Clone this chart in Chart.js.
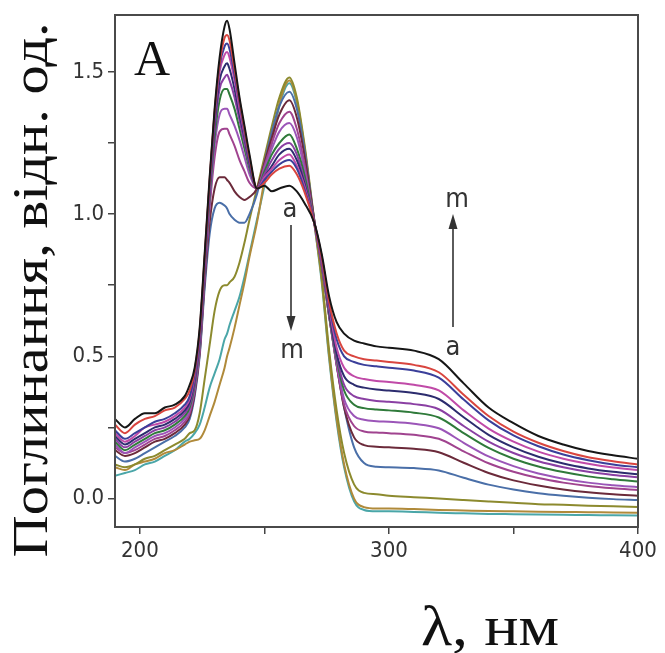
<!DOCTYPE html>
<html><head><meta charset="utf-8">
<script src="https://cdn.jsdelivr.net/npm/chart.js@4"></script>
<style>html,body{margin:0;padding:0;background:#fff}#wrap{width:665px;height:653px}</style>
</head><body><div id="wrap"><canvas id="c" width="665" height="653"></canvas></div>
<script>
// Wavelength grid (nm)
const wavelengths = [190,194,198,202,206,210,214,218,220,222,224,226,228,230,232,234,235,236,238,240,242,244,247,250,253,256,260,263,266,270,273,276,279,282,286,290,295,300,310,320,330,340,350,360,370,380,390,400];

// Absorbance spectra a..m (+ extra trace)
const curveA = [0.28,0.25,0.28,0.30,0.30,0.32,0.33,0.36, 0.40,0.46,0.60,0.86,1.13,1.37,1.55,1.66, 1.68,1.65,1.53,1.41,1.31,1.21,1.09, 1.10,1.08,1.09,1.10,1.08,1.04,0.97, 0.86,0.71,0.62,0.58,0.555,0.545,0.535,0.53, 0.52,0.49,0.405,0.32,0.265,0.22,0.19,0.167,0.152,0.14];
const curveB = [0.26,0.23,0.26,0.28,0.29,0.31,0.32,0.35, 0.38,0.45,0.59,0.85,1.12,1.36,1.53,1.62, 1.63,1.61,1.51,1.40,1.30,1.20,1.09, 1.11,1.14,1.16,1.17,1.14,1.08,0.97, 0.85,0.69,0.58,0.52,0.50,0.49,0.485,0.48, 0.47,0.444,0.365,0.29,0.235,0.196,0.167,0.145,0.131,0.12];
const curveC = [0.24,0.21,0.23,0.25,0.27,0.28,0.30,0.33, 0.36,0.44,0.58,0.84,1.11,1.35,1.52,1.59, 1.60,1.58,1.49,1.39,1.29,1.19,1.09, 1.12,1.15,1.175,1.19,1.16,1.09,0.97, 0.85,0.68,0.56,0.50,0.48,0.47,0.465,0.46, 0.45,0.425,0.348,0.275,0.222,0.184,0.155,0.135,0.12,0.11];
const curveD = [0.23,0.20,0.22,0.25,0.26,0.27,0.29,0.32, 0.35,0.43,0.57,0.83,1.10,1.34,1.50,1.56, 1.57,1.55,1.47,1.37,1.28,1.19,1.09, 1.13,1.16,1.19,1.21,1.17,1.10,0.97, 0.84,0.67,0.53,0.46,0.43,0.42,0.413,0.41, 0.40,0.38,0.31,0.246,0.20,0.165,0.14,0.122,0.109,0.10];
const curveE = [0.22,0.19,0.21,0.23,0.25,0.26,0.28,0.31, 0.34,0.42,0.56,0.82,1.09,1.32,1.47,1.52, 1.53,1.51,1.44,1.35,1.27,1.18,1.09, 1.13,1.17,1.21,1.23,1.19,1.11,0.97, 0.84,0.66,0.51,0.43,0.40,0.39,0.383,0.38, 0.371,0.35,0.286,0.224,0.18,0.147,0.123,0.106,0.094,0.085];
const curveF = [0.21,0.18,0.20,0.22,0.24,0.25,0.27,0.30, 0.33,0.41,0.55,0.81,1.08,1.30,1.44,1.48, 1.49,1.47,1.41,1.33,1.25,1.17,1.09, 1.14,1.19,1.23,1.25,1.21,1.12,0.97, 0.83,0.66,0.50,0.40,0.36,0.35,0.343,0.34, 0.332,0.314,0.255,0.20,0.16,0.131,0.11,0.094,0.083,0.075];
const curveG = [0.20,0.17,0.19,0.21,0.23,0.24,0.26,0.29, 0.32,0.40,0.54,0.80,1.06,1.27,1.40,1.44, 1.44,1.42,1.37,1.30,1.23,1.16,1.09, 1.15,1.21,1.25,1.28,1.23,1.14,0.97, 0.83,0.65,0.49,0.38,0.33,0.318,0.313,0.31, 0.302,0.285,0.23,0.178,0.14,0.113,0.093,0.078,0.068,0.06];
const curveH = [0.19,0.16,0.18,0.20,0.22,0.23,0.25,0.28, 0.31,0.39,0.53,0.79,1.04,1.24,1.35,1.37, 1.37,1.35,1.31,1.26,1.20,1.14,1.09, 1.16,1.23,1.29,1.32,1.27,1.16,0.97, 0.83,0.65,0.48,0.35,0.29,0.277,0.272,0.27, 0.263,0.247,0.196,0.148,0.114,0.088,0.07,0.056,0.047,0.04];
const curveI = [0.18,0.16,0.17,0.19,0.21,0.22,0.24,0.27, 0.30,0.38,0.52,0.78,1.02,1.20,1.29,1.30, 1.30,1.28,1.24,1.19,1.15,1.11,1.09, 1.17,1.25,1.32,1.36,1.30,1.18,0.97, 0.82,0.64,0.47,0.33,0.255,0.236,0.232,0.23, 0.224,0.21,0.166,0.124,0.094,0.072,0.056,0.044,0.036,0.03];
const curveJ = [0.17,0.15,0.16,0.18,0.20,0.21,0.23,0.26, 0.29,0.37,0.51,0.76,0.97,1.09,1.13,1.13, 1.12,1.11,1.08,1.06,1.05,1.06,1.09, 1.18,1.27,1.35,1.40,1.34,1.21,0.98, 0.82,0.64,0.47,0.32,0.215,0.188,0.182,0.18, 0.175,0.163,0.126,0.09,0.064,0.046,0.032,0.022,0.015,0.01];
const curveK = [0.15,0.13,0.14,0.16,0.18,0.20,0.22,0.25, 0.28,0.36,0.50,0.74,0.93,1.02,1.04,1.03, 1.02,1.00,0.98,0.97,0.97,1.00,1.07, 1.18,1.29,1.38,1.43,1.37,1.23,0.98, 0.82,0.64,0.47,0.32,0.18,0.125,0.112,0.11, 0.107,0.099,0.073,0.049,0.032,0.019,0.01,0.003,-0.002,-0.005];
const curveL = [0.12,0.11,0.12,0.14,0.15,0.17,0.19,0.21, 0.23,0.24,0.30,0.42,0.54,0.66,0.73,0.75, 0.75,0.76,0.78,0.83,0.90,0.98,1.09, 1.20,1.31,1.41,1.48,1.41,1.25,0.98, 0.78,0.52,0.31,0.16,0.05,0.02,0.015,0.01, 0.005,0.0,-0.005,-0.01,-0.015,-0.02,-0.022,-0.025,-0.027,-0.03];
const curveM = [0.11,0.10,0.12,0.13,0.14,0.16,0.17,0.19, 0.20,0.205,0.21,0.24,0.29,0.34,0.40,0.46, 0.50,0.53,0.60,0.68,0.76,0.85,0.97, 1.12,1.26,1.39,1.47,1.40,1.24,0.97, 0.77,0.50,0.28,0.12,0.0,-0.03,-0.035,-0.035, -0.037,-0.04,-0.042,-0.044,-0.045,-0.046,-0.047,-0.048,-0.049,-0.05];
const curveN = [0.08,0.09,0.10,0.12,0.13,0.15,0.17,0.20, 0.21,0.23,0.26,0.32,0.39,0.44,0.49,0.56, 0.58,0.61,0.66,0.71,0.78,0.86,0.98, 1.10,1.25,1.38,1.46,1.39,1.23,0.97, 0.76,0.49,0.27,0.11,-0.01,-0.04,-0.045,-0.045, -0.047,-0.05,-0.052,-0.054,-0.055,-0.056,-0.057,-0.058,-0.059,-0.06];

const seriesNames = ['a','b','c','d','e','f','g','h','i','j','k','l','m','n'];
const seriesValues = [curveA,curveB,curveC,curveD,curveE,curveF,curveG,curveH,curveI,curveJ,curveK,curveL,curveM,curveN];
const seriesColors = ['#161616','#d9453f','#3b3f9a','#c04aa8','#2c2c6e','#8a3fa3','#2f7a3a','#9b55b8','#a0438f','#6b2a3a','#4a6fa8','#8c8a2e','#b08a3a','#4aa6a8'];

// Axis ticks
const xTickValues = [200,250,300,350,400];
const xTickLabels = ['200','','300','','400'];
const yTickValues = [0,0.25,0.5,0.75,1.0,1.25,1.5];
const yTickLabels = ['0.0','','0.5','','1.0','','1.5'];

const xTitle = 'λ, нм';
const yTitle = 'Поглинання, відн. од.';
const panelLabel = 'A';

const tickFont = "'Liberation Sans Narrow','DejaVu Sans Condensed','Arial Narrow',sans-serif";
const serif = "'Liberation Serif','Times New Roman',serif";

const datasets = seriesValues.map((vals, si) => ({
  label: seriesNames[si],
  data: wavelengths.map((w, i) => ({x: w, y: vals[i]})),
  borderColor: seriesColors[si],
  borderWidth: 2,
  pointRadius: 0,
  fill: false,
  cubicInterpolationMode: 'monotone'
}));

function stretchedText(ctx, text, x, y, font, targetW, rot, align) {
  ctx.save();
  ctx.font = font;
  const w = ctx.measureText(text).width;
  ctx.translate(x, y);
  ctx.rotate(rot);
  ctx.scale(targetW / w, 1);
  ctx.textAlign = align || 'center';
  ctx.textBaseline = 'alphabetic';
  ctx.fillText(text, 0, 0);
  ctx.restore();
}
function arrow(ctx, x, y1, y2) {
  const dir = y2 > y1 ? 1 : -1;
  ctx.beginPath();
  ctx.moveTo(x, y1);
  ctx.lineTo(x, y2 - dir * 10);
  ctx.stroke();
  ctx.beginPath();
  ctx.moveTo(x, y2);
  ctx.lineTo(x - 4.5, y2 - dir * 15);
  ctx.lineTo(x + 4.5, y2 - dir * 15);
  ctx.closePath();
  ctx.fill();
}

const decor = {
  id: 'decor',
  afterDraw(chart) {
    const ctx = chart.ctx;
    const a = chart.chartArea;
    ctx.save();
    ctx.strokeStyle = '#4a4a4a';
    ctx.lineWidth = 2;
    ctx.strokeRect(a.left, a.top, a.right - a.left, a.bottom - a.top);
    ctx.fillStyle = '#111';
    stretchedText(ctx, yTitle, 47, 290, '50px ' + serif, 535, -Math.PI / 2);
    stretchedText(ctx, xTitle, 490, 645, '58px ' + serif, 138, 0);
    ctx.font = '50px ' + serif;
    ctx.textAlign = 'left';
    ctx.textBaseline = 'alphabetic';
    ctx.fillText(panelLabel, 134, 75);
    ctx.fillStyle = '#333';
    ctx.strokeStyle = '#333';
    ctx.lineWidth = 1.6;
    ctx.font = '27px ' + tickFont;
    ctx.textAlign = 'center';
    ctx.fillText('a', 290, 217);
    ctx.fillText('m', 292, 358);
    ctx.fillText('m', 457, 207);
    ctx.fillText('a', 453, 355);
    arrow(ctx, 291, 225, 331);
    arrow(ctx, 453, 327, 214);
    ctx.restore();
  }
};

new Chart(document.getElementById('c'), {
  type: 'line',
  data: {datasets},
  options: {
    responsive: false,
    animation: false,
    devicePixelRatio: 1,
    layout: {padding: {left: 0, right: 27, top: 15, bottom: 0}},
    plugins: {legend: {display: false}, tooltip: {enabled: false}},
    scales: {
      x: {
        type: 'linear', min: 190, max: 400,
        afterBuildTicks: s => { s.ticks = xTickValues.map(v => ({value: v})); },
        afterFit: s => { s.height = 126; s.paddingLeft = 0; s.paddingRight = 0; },
        ticks: {
          autoSkip: false, maxRotation: 0, padding: 4, color: '#333',
          font: {family: tickFont, size: 22},
          callback: (v, i) => xTickLabels[i]
        },
        grid: {drawOnChartArea: false, drawTicks: true, tickLength: 7, color: '#444', lineWidth: 1.5},
        border: {display: false}
      },
      y: {
        type: 'linear', min: -0.1, max: 1.7,
        afterBuildTicks: s => { s.ticks = yTickValues.map(v => ({value: v})); },
        afterFit: s => { s.width = 115; s.paddingTop = 0; s.paddingBottom = 0; },
        ticks: {
          autoSkip: false, padding: 4, color: '#333',
          font: {family: tickFont, size: 22},
          callback: (v, i) => yTickLabels[i]
        },
        grid: {drawOnChartArea: false, drawTicks: true, tickLength: 7, color: '#444', lineWidth: 1.5},
        border: {display: false}
      }
    }
  },
  plugins: [decor]
});
</script></body></html>
